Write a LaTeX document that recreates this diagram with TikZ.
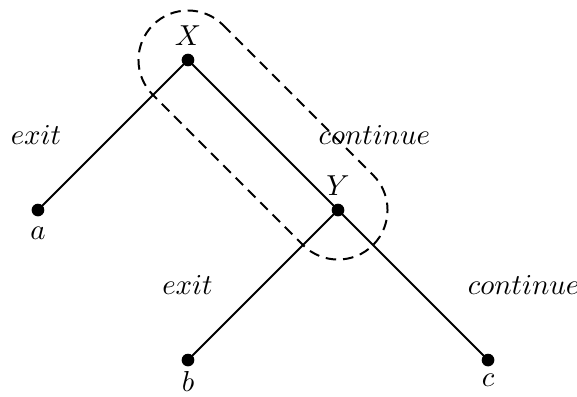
\documentclass[11pt,tikz,border=0pt]{standalone}
\usepackage{amsmath,amssymb}
\usepackage{tikz}
\usetikzlibrary{arrows.meta,calc,positioning}
\tikzset{
  branch/.style={line width=0.75pt},
  point/.style={circle,fill=black,inner sep=1.7pt},
  chainloop/.style={dashed,dash pattern=on 4pt off 2.6pt,line width=0.75pt},
  edgelabel/.style={font=\normalsize}
}
\begin{document}
\begin{tikzpicture}[x=2cm,y=2cm]
\useasboundingbox (-0.253,-0.245) rectangle (3.593,2.4);
% decision points
\node[point,label={[label distance=-1pt]above:$X$}] (X) at (1,2) {};
\node[point,label={[label distance=0pt]below:$a$}] (a) at (0,1) {};
\node[point,label={[label distance=-1pt]above:$Y$}] (Y) at (2,1) {};
\node[point,label={[label distance=-2pt]below:$b$}] (b) at (1,0) {};
\node[point,label={[label distance=-1pt]below:$c$}] (c) at (3,0) {};
% branches
\draw[branch] (X.center) -- node[midway,left=0.55cm,edgelabel] {$exit$} (a.center);
\draw[branch] (X.center) -- node[midway,right=0.6cm,edgelabel] {$continue$} (Y.center);
\draw[branch] (Y.center) -- node[midway,left=0.53cm,edgelabel] {$exit$} (b.center);
\draw[branch] (Y.center) -- node[midway,right=0.59cm,edgelabel] {$continue$} (c.center);
% dashed loop around X and Y
\draw[chainloop] ([shift={(45:0.66cm)}]X.center) -- ([shift={(45:0.66cm)}]Y.center)
  arc (45:-135:0.66cm) -- ([shift={(-135:0.66cm)}]X.center)
  arc (-135:-315:0.66cm) -- cycle;
\end{tikzpicture}
\end{document}
